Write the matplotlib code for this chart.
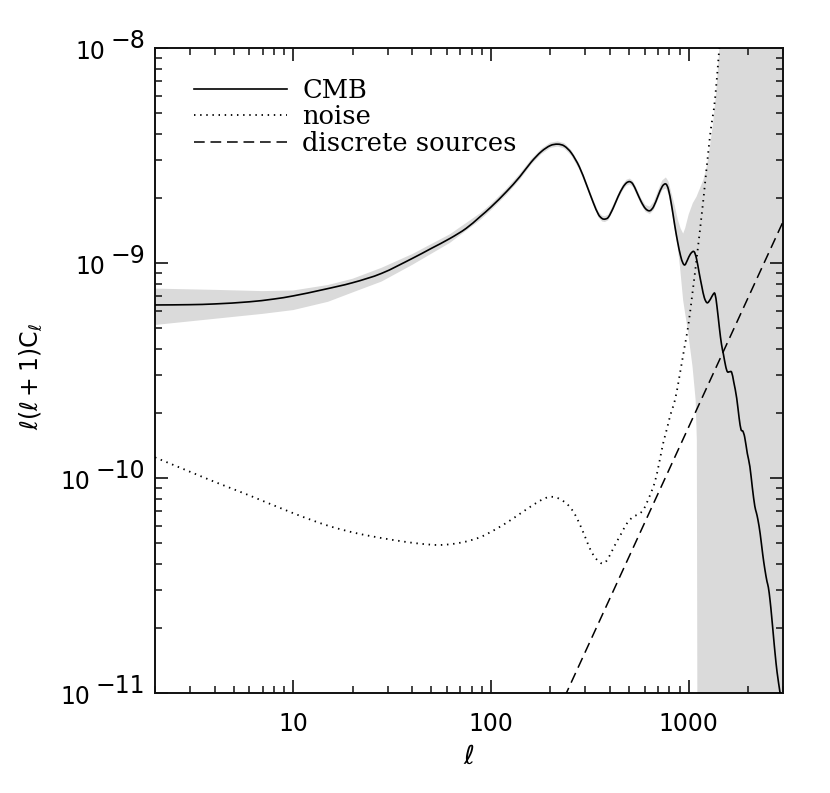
import numpy as np
import matplotlib
matplotlib.use("Agg")
import matplotlib.pyplot as plt
from matplotlib.ticker import LogLocator, NullFormatter, FixedLocator, FixedFormatter
import matplotlib.transforms as mtransforms
from matplotlib.path import Path
from matplotlib.patches import PathPatch
from matplotlib.lines import Line2D

plt.rcParams['mathtext.fontset'] = 'dejavusans'

# ---------------- data ----------------
cmb_l = [2, 3, 4, 6, 8, 10, 14, 20, 28, 40, 50, 62, 75, 88, 100, 120, 140, 160, 180,
         200, 218, 235, 255, 280, 305, 330, 350, 365, 377, 392, 415, 440, 465, 485,
         504, 522, 545, 575, 605, 636, 665, 700, 735, 767, 790, 820, 850, 880, 910,
         935, 957, 985, 1020, 1064, 1095, 1130, 1165, 1200, 1241, 1290, 1330, 1359,
         1390, 1430, 1465, 1500, 1540, 1570, 1610, 1650, 1690, 1750, 1800, 1840,
         1880, 1920, 1980, 2040, 2100, 2160, 2200, 2240, 2300, 2370, 2430, 2490,
         2530, 2580, 2630, 2690, 2735, 2800, 2900, 3000]
cmb_c = [6.38e-10, 6.40e-10, 6.45e-10, 6.6e-10, 6.8e-10, 7.03e-10, 7.5e-10, 8.1e-10,
         8.95e-10, 1.05e-9, 1.17e-9, 1.30e-9, 1.45e-9, 1.64e-9, 1.82e-9, 2.15e-9,
         2.52e-9, 2.95e-9, 3.3e-9, 3.52e-9, 3.57e-9, 3.5e-9, 3.25e-9, 2.8e-9, 2.3e-9,
         1.9e-9, 1.68e-9, 1.61e-9, 1.60e-9, 1.63e-9, 1.8e-9, 2.04e-9, 2.25e-9,
         2.36e-9, 2.39e-9, 2.33e-9, 2.15e-9, 1.93e-9, 1.79e-9, 1.75e-9, 1.83e-9,
         2.05e-9, 2.27e-9, 2.33e-9, 2.2e-9, 1.85e-9, 1.5e-9, 1.25e-9, 1.08e-9,
         1.0e-9, 0.98e-9, 1.03e-9, 1.1e-9, 1.13e-9, 1.05e-9, 0.9e-9, 0.78e-9,
         0.69e-9, 0.653e-9, 0.68e-9, 0.715e-9, 0.718e-9, 0.63e-9, 0.5e-9, 0.42e-9,
         0.375e-9, 0.33e-9, 0.312e-9, 0.312e-9, 0.31e-9, 0.28e-9, 0.235e-9, 0.19e-9,
         0.168e-9, 0.165e-9, 0.155e-9, 0.13e-9, 0.113e-9, 0.09e-9, 0.074e-9,
         0.069e-9, 0.064e-9, 0.055e-9, 0.044e-9, 0.0375e-9, 0.033e-9, 0.031e-9,
         0.027e-9, 0.0226e-9, 0.018e-9, 0.0153e-9, 0.0125e-9, 0.010e-9, 0.008e-9]

band_up_l = [2, 4, 7, 10, 15, 20, 28, 40, 62, 88, 100, 120, 140, 160, 180, 200, 218,
             235, 255, 280, 305, 330, 350, 365, 377, 392, 415, 440, 465, 485, 504,
             522, 545, 575, 605, 636, 665, 700, 735, 767, 790, 820, 850, 880, 910,
             938, 960, 1000, 1050, 1095, 1186, 1234, 1282, 1330, 1380, 1430, 1500, 3000]
band_up_c = [7.6e-10, 7.5e-10, 7.4e-10, 7.45e-10, 7.9e-10, 8.45e-10, 9.5e-10, 1.1e-9,
             1.36e-9, 1.70e-9, 1.88e-9, 2.22e-9, 2.6e-9, 3.04e-9, 3.4e-9, 3.63e-9,
             3.68e-9, 3.61e-9, 3.35e-9, 2.89e-9, 2.37e-9, 1.96e-9, 1.73e-9, 1.66e-9,
             1.65e-9, 1.68e-9, 1.86e-9, 2.1e-9, 2.32e-9, 2.44e-9, 2.47e-9, 2.41e-9,
             2.23e-9, 2.0e-9, 1.86e-9, 1.83e-9, 1.92e-9, 2.17e-9, 2.42e-9, 2.5e-9,
             2.4e-9, 2.1e-9, 1.85e-9, 1.6e-9, 1.45e-9, 1.37e-9, 1.45e-9, 1.68e-9,
             1.9e-9, 2.03e-9, 2.43e-9, 2.8e-9, 3.5e-9, 4.5e-9, 6.3e-9, 1.0e-8, 2.0e-8, 1e-6]

band_lo_l = [2, 4, 7, 10, 15, 20, 28, 40, 62, 88, 100, 120, 140, 160, 180, 200, 218,
             235, 255, 280, 305, 330, 350, 365, 377, 392, 415, 440, 465, 485, 504,
             522, 545, 575, 605, 636, 665, 700, 735, 767, 790, 820, 850, 880, 904,
             938, 995, 1046, 1085, 1100, 1112, 3000]
band_lo_c = [5.15e-10, 5.5e-10, 5.8e-10, 6.04e-10, 6.6e-10, 7.3e-10, 8.2e-10, 9.8e-10,
             1.24e-9, 1.58e-9, 1.76e-9, 2.08e-9, 2.44e-9, 2.87e-9, 3.21e-9, 3.43e-9,
             3.48e-9, 3.41e-9, 3.16e-9, 2.72e-9, 2.24e-9, 1.85e-9, 1.63e-9, 1.56e-9,
             1.55e-9, 1.58e-9, 1.75e-9, 1.98e-9, 2.18e-9, 2.29e-9, 2.32e-9, 2.26e-9,
             2.08e-9, 1.87e-9, 1.73e-9, 1.69e-9, 1.76e-9, 1.97e-9, 2.18e-9, 2.22e-9,
             2.1e-9, 1.76e-9, 1.42e-9, 1.18e-9, 9.6e-10, 6.7e-10, 4.7e-10, 3.3e-10,
             2.3e-10, 1.5e-10, 1e-12, 1e-12]

noise_l = [2, 3, 4, 6, 10, 15, 21, 30, 42, 55, 70, 88, 110, 130, 160, 185, 202, 225,
           250, 270, 292, 320, 345, 369, 390, 420, 457, 490, 524, 560, 589, 630, 675,
           710, 743, 780, 804, 855, 900, 950, 995, 1050, 1095, 1186, 1282, 1360, 1429, 1500]
noise_c = [1.247e-10, 1.07e-10, 9.6e-11, 8.3e-11, 6.86e-11, 6.0e-11, 5.53e-11, 5.2e-11,
           4.97e-11, 4.88e-11, 5.0e-11, 5.3e-11, 5.9e-11, 6.5e-11, 7.4e-11, 8.0e-11,
           8.18e-11, 7.95e-11, 7.36e-11, 6.6e-11, 5.63e-11, 4.6e-11, 4.15e-11, 4.0e-11,
           4.2e-11, 4.8e-11, 5.53e-11, 6.2e-11, 6.6e-11, 6.8e-11, 7.1e-11, 8.1e-11,
           9.6e-11, 1.18e-10, 1.45e-10, 1.72e-10, 1.93e-10, 2.33e-10, 3.0e-10, 4.0e-10,
           5.1e-10, 7.5e-10, 1.03e-9, 1.96e-9, 3.9e-9, 5.8e-9, 1.0e-8, 1.6e-8]

src_l = [200, 3000]
src_c = [6.9e-12, 1.555e-9]

series_labels = ["CMB", "noise", "discrete sources"]
xtick_vals = [10, 100, 1000]
xtick_labels = ["10", "100", "1000"]
ytick_vals = [1e-11, 1e-10, 1e-9, 1e-8]
ytick_exps = ["\u221211", "\u221210", "\u22129", "\u22128"]


def smooth_loglog_path(xs, ys):
    """Cubic Hermite Bezier path through the given points (in log-log space)."""
    lx = np.log10(np.asarray(xs, float))
    ly = np.log10(np.asarray(ys, float))
    n = len(lx)
    m = np.empty(n)
    m[0] = (ly[1] - ly[0]) / (lx[1] - lx[0])
    m[-1] = (ly[-1] - ly[-2]) / (lx[-1] - lx[-2])
    m[1:-1] = (ly[2:] - ly[:-2]) / (lx[2:] - lx[:-2])
    verts = [(lx[0], ly[0])]
    codes = [Path.MOVETO]
    for i in range(n - 1):
        dx = lx[i + 1] - lx[i]
        verts += [(lx[i] + dx / 3, ly[i] + m[i] * dx / 3),
                  (lx[i + 1] - dx / 3, ly[i + 1] - m[i + 1] * dx / 3),
                  (lx[i + 1], ly[i + 1])]
        codes += [Path.CURVE4] * 3
    return Path(10 ** np.array(verts), codes)


# ---------------- figure ----------------
W, H = 830, 793
fig = plt.figure(figsize=(W / 100, H / 100), dpi=100)
ax = fig.add_axes([155 / W, 1 - 693 / H, (783 - 155) / W, (693 - 48) / H])
ax.set_xscale('log')
ax.set_yscale('log')
ax.set_xlim(2, 3000)
ax.set_ylim(1e-11, 1e-8)

grey = '#dadada'
bx = np.concatenate([band_up_l, band_lo_l[::-1]])
by = np.concatenate([band_up_c, band_lo_c[::-1]])
ax.fill(bx, by, color=grey, lw=0, zorder=1)

cmb_style = dict(color='black', lw=1.2)
noise_style = dict(color='black', lw=1.3, ls=(0, (0.8, 2.6)))
src_style = dict(color='black', lw=1.1, ls=(0, (7.0, 3.8)))

ax.add_patch(PathPatch(smooth_loglog_path(cmb_l, cmb_c), fill=False,
                       edgecolor=cmb_style['color'], lw=cmb_style['lw'], zorder=3))
ax.add_patch(PathPatch(smooth_loglog_path(noise_l, noise_c), fill=False,
                       edgecolor=noise_style['color'], lw=noise_style['lw'],
                       ls=noise_style['ls'], zorder=3))
ax.plot(src_l, src_c, zorder=3, **src_style)

# ticks
for side in ['top', 'bottom', 'left', 'right']:
    ax.spines[side].set_linewidth(1.4)
    ax.spines[side].set_color('#111111')
ax.tick_params(which='both', direction='in', top=True, right=True, color='#111111')
ax.tick_params(which='major', length=9.5, width=1.2)
ax.tick_params(which='minor', length=5, width=1.1)
ax.xaxis.set_major_locator(FixedLocator(xtick_vals))
ax.xaxis.set_major_formatter(FixedFormatter(xtick_labels))
ax.xaxis.set_minor_locator(LogLocator(base=10, subs=np.arange(2, 10), numticks=20))
ax.xaxis.set_minor_formatter(NullFormatter())
ax.yaxis.set_major_locator(FixedLocator(ytick_vals))
ax.yaxis.set_minor_locator(LogLocator(base=10, subs=np.arange(2, 10), numticks=20))
ax.yaxis.set_major_formatter(NullFormatter())
ax.yaxis.set_minor_formatter(NullFormatter())
ax.tick_params(axis='x', which='major', labelsize=17, pad=14)
for t in ax.get_xticklabels():
    t.set_family('DejaVu Sans')

# y tick labels: "10" with same-size raised exponent
trans = mtransforms.blended_transform_factory(ax.transAxes, ax.transData)
for v, e in zip(ytick_vals, ytick_exps):
    et = ax.annotate(e, xy=(0, v), xycoords=trans, xytext=(-10, 7),
                     textcoords='offset pixels', ha='right', va='center',
                     fontsize=17, family='DejaVu Sans', annotation_clip=False)
    ax.annotate("10", xy=(0, 0.5), xycoords=et, xytext=(-5, -11),
                textcoords='offset pixels', ha='right', va='center',
                fontsize=17, family='DejaVu Sans', annotation_clip=False)

ax.set_xlabel(r'$\ell$', fontsize=19)
ax.xaxis.set_label_coords(0.5, (693 - 757) / 645)
ax.xaxis.label.set_va('center')
ax.set_ylabel(r'$\ell(\ell+1)\mathrm{C}_\ell$', fontsize=17)
ax.yaxis.set_label_coords((31 - 155) / 628, 0.5 - 6 / 645)
ax.yaxis.label.set_va('center')

handles = [Line2D([], [], **cmb_style), Line2D([], [], **noise_style),
           Line2D([], [], **src_style)]
leg = ax.legend(handles=handles, labels=series_labels, loc='upper left',
                bbox_to_anchor=(39 / 628, 1 - 30 / 645), frameon=False,
                prop={'family': 'DejaVu Serif', 'size': 18.5}, handlelength=3.6,
                handletextpad=0.62, borderpad=0, borderaxespad=0, labelspacing=0.05)

fig.savefig('out.png', dpi=100)
